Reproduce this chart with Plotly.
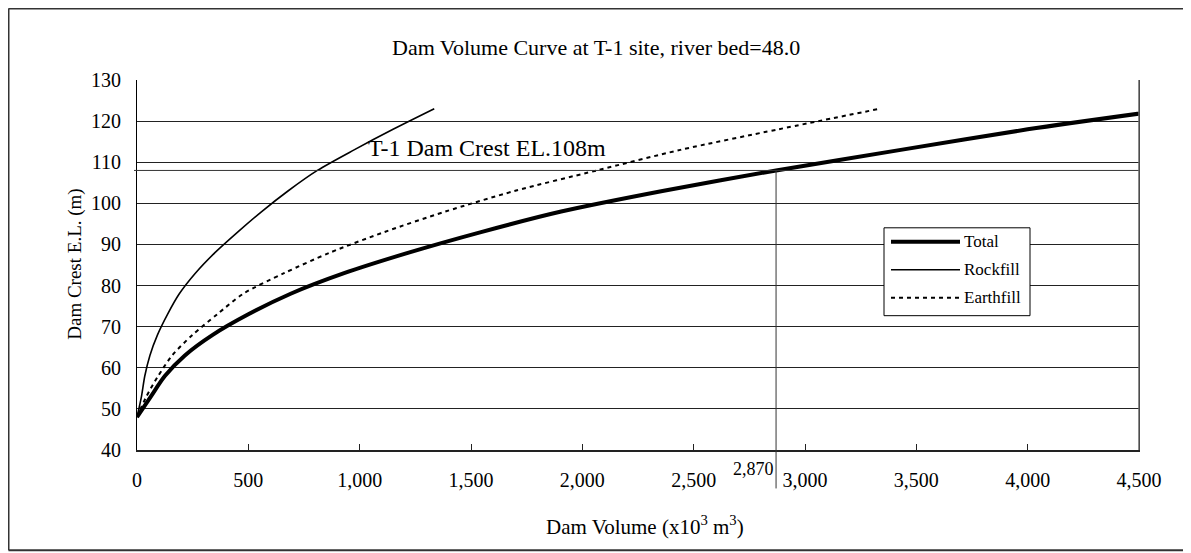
import plotly.graph_objects as go

# ---- data ----
elevation = [48, 53, 58, 63, 68, 73, 78, 83, 88, 93, 98, 103, 108, 113, 118, 123]
total_vol = [0, 62, 125, 215, 340, 500, 690, 930, 1220, 1545, 1905, 2360, 2870, 3430, 4000, 4660]
rock_vol = [0, 20, 35, 58, 92, 137, 190, 262, 350, 452, 560, 678, 810, 975, 1150, 1335]
earth_vol = [0, 42, 95, 158, 249, 360, 477, 660, 866, 1110, 1385, 1695, 2065, 2440, 2880, 3335]

series_names = ["Total", "Rockfill", "Earthfill"]
crest_el = 108
crest_vol = 2870
x_ticks = [0, 500, 1000, 1500, 2000, 2500, 3000, 3500, 4000, 4500]
y_ticks = [40, 50, 60, 70, 80, 90, 100, 110, 120, 130]

FONT = "Liberation Serif, Times New Roman, serif"
YMIN, YMAX = 40, 130
XMIN, XMAX = 0, 4500

# page (screenshot) pixel -> paper coordinate helpers (plot area: x 137..1139, y 80..450.5)
def px(x):
    return (x - 137) / 1002.0

def py(y):
    return (450.5 - y) / 370.5

styles = [
    dict(color="black", width=4),
    dict(color="black", width=1.6),
    dict(color="black", width=2, dash="4px,4px"),
]

fig = go.Figure()
for name, vols, st in zip(series_names, [total_vol, rock_vol, earth_vol], styles):
    fig.add_trace(go.Scatter(x=vols, y=elevation, name=name, mode="lines",
                             line=dict(shape="spline", smoothing=0.8, **st),
                             showlegend=False, cliponaxis=True))

crest_frac = (crest_el - YMIN) / (YMAX - YMIN)

shapes = [
    # outer chart border (left, top, bottom; right side runs off the page)
    dict(type="line", xref="paper", yref="paper", x0=px(8.5), x1=px(8.5), y0=py(551), y1=py(8.5),
         line=dict(color="#333333", width=2), layer="below"),
    dict(type="line", xref="paper", yref="paper", x0=px(8.5), x1=px(1260), y0=py(8.5), y1=py(8.5),
         line=dict(color="#333333", width=2), layer="below"),
    dict(type="line", xref="paper", yref="paper", x0=px(8.5), x1=px(1260), y0=py(551), y1=py(551),
         line=dict(color="#333333", width=2), layer="below"),
    # crest elevation line
    dict(type="line", xref="paper", yref="y", x0=px(134), x1=1, y0=crest_el, y1=crest_el,
         line=dict(color="#333333", width=1)),
    # crest volume vertical line (from crest elevation down below the axis)
    dict(type="line", xref="x", yref="paper", x0=crest_vol, x1=crest_vol, y0=py(489), y1=crest_frac,
         line=dict(color="#333333", width=1)),
    # right frame
    dict(type="line", xref="paper", yref="paper", x0=1, x1=1, y0=0, y1=1,
         line=dict(color="#666666", width=1.5)),
    # legend box
    dict(type="rect", xref="paper", yref="paper", x0=px(884), x1=px(1030), y0=py(316), y1=py(228),
         line=dict(color="black", width=1), fillcolor="white", layer="above"),
]

annotations = [
    dict(text="Dam Volume Curve at T-1 site, river bed=48.0", xref="paper", yref="paper",
         x=px(596), y=py(47), showarrow=False, font=dict(family=FONT, size=22, color="black"),
         xanchor="center", yanchor="middle"),
    dict(text="Dam Crest E.L. (m)", xref="paper", yref="paper", x=px(75), y=py(265),
         textangle=-90, showarrow=False, font=dict(family=FONT, size=19, color="black"),
         xanchor="center", yanchor="middle"),
    dict(text="Dam Volume (x10<sup>3</sup> m<sup>3</sup>)", xref="paper", yref="paper",
         x=px(645), y=py(526), showarrow=False, font=dict(family=FONT, size=21, color="black"),
         xanchor="center", yanchor="middle"),
    dict(text="T-1 Dam Crest EL.108m", xref="paper", yref="paper", x=px(366), y=py(148),
         showarrow=False, font=dict(family=FONT, size=24, color="black"),
         xanchor="left", yanchor="middle"),
    dict(text=f"{crest_vol:,}", xref="x", yref="paper", x=crest_vol, y=py(470),
         xshift=0, showarrow=False, font=dict(family=FONT, size=18, color="black"),
         xanchor="right", yanchor="middle"),
]

# manual legend (entries at page y 242, 270, 298)
legend_y = [242, 270, 298]
for name, st, ly in zip(series_names, styles, legend_y):
    shapes.append(dict(type="line", xref="paper", yref="paper", x0=px(891), x1=px(960),
                       y0=py(ly), y1=py(ly), line=st, layer="above"))
    annotations.append(dict(text=name, xref="paper", yref="paper", x=px(962), y=py(ly),
                            showarrow=False, xanchor="left", yanchor="middle",
                            font=dict(family=FONT, size=17, color="black")))

fig.update_layout(
    width=1191, height=553,
    margin=dict(l=129, r=60, t=72, b=110.5, pad=0),
    paper_bgcolor="white", plot_bgcolor="white",
    font=dict(family=FONT, size=20, color="black"),
    shapes=shapes, annotations=annotations,
    showlegend=False,
)

fig.update_xaxes(range=[XMIN, XMAX], tickvals=x_ticks, ticktext=[f"{v:,}" for v in x_ticks],
                 showgrid=False, zeroline=False, showline=True, linecolor="#222222", linewidth=2,
                 mirror=False, ticks="inside", ticklen=6, tickcolor="#222222",
                 tickfont=dict(family=FONT, size=20, color="black"), ticklabelstandoff=11)
fig.update_yaxes(range=[YMIN, YMAX], tickvals=y_ticks,
                 showgrid=True, gridcolor="#222222", gridwidth=1, zeroline=False,
                 showline=True, linecolor="black", linewidth=1, mirror=True,
                 ticks="", tickfont=dict(family=FONT, size=20, color="black"), ticklabelstandoff=11)

fig.write_html("out.html")
